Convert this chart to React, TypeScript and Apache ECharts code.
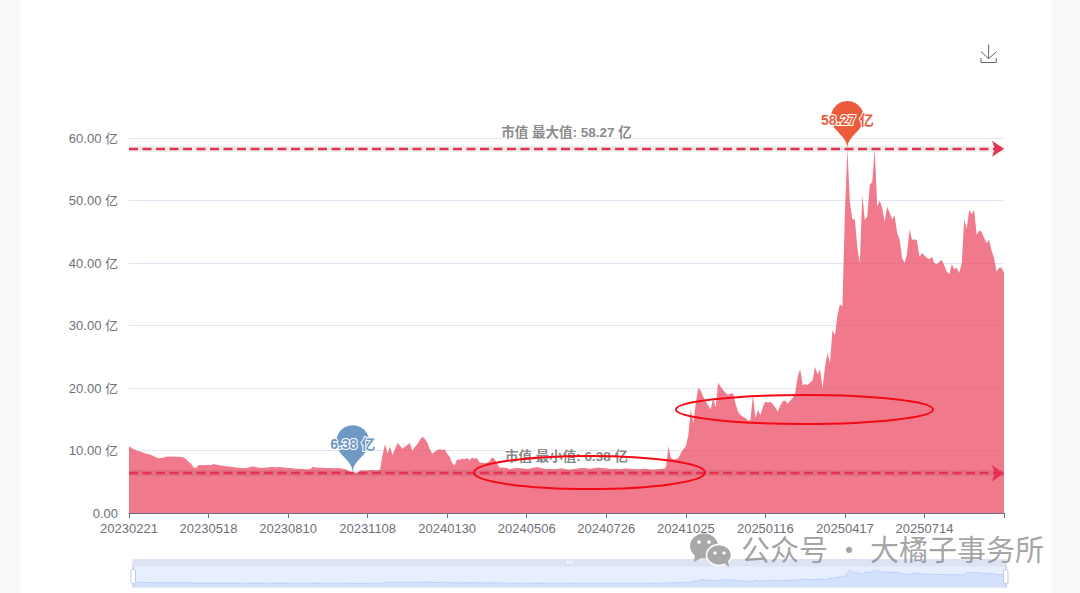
import React, { useEffect, useRef } from "react";
import * as echarts from "echarts";

const tickLabels = ["20230221","20230518","20230810","20231108","20240130","20240506","20240726","20241025","20250116","20250417","20250714",""];
const pointsPerTick = 32;

const values1 = [10.7,10.4,10.2,10.0,9.9,9.8,9.6,9.5,9.4,9.3,9.1,8.9,8.75,8.8,8.9,9.0,9.05,9.0,9.05,9.0,9.0,8.95,8.9,8.6,8.2,7.9,7.3,7.2,7.7,7.7,7.65,7.7];
const values2 = [7.7,7.65,7.85,7.75,7.7,7.6,7.55,7.5,7.45,7.4,7.35,7.3,7.25,7.2,7.2,7.15,7.3,7.4,7.45,7.35,7.3,7.2,7.25,7.3,7.3,7.35,7.35,7.3,7.35,7.35,7.3,7.25];
const values3 = [7.2,7.2,7.15,7.1,7.1,7.1,7.05,7.0,7.0,7.05,7.4,7.3,7.3,7.25,7.25,7.2,7.2,7.2,7.15,7.15,7.2,7.15,7.1,7.0,6.85,6.6,6.38,6.45,6.5,6.75,6.85,6.8];
const values4 = [6.85,6.9,6.9,6.85,6.85,6.95,9.3,11.0,9.6,10.6,9.3,10.2,11.2,10.8,10.3,10.6,10.9,11.2,9.9,10.6,11.0,11.7,12.2,11.9,11.3,10.2,9.5,9.8,10.1,10.2,10.1,10.2];
const values5 = [9.5,9.0,8.0,7.6,8.6,8.5,8.7,8.6,8.8,8.5,8.9,8.7,8.8,8.1,8.05,8.0,8.0,8.3,8.9,8.7,8.0,7.3,7.3,7.25,7.2,7.0,7.1,7.15,7.2,7.2,7.15,7.1];
const values6 = [7.05,7.1,7.2,7.3,7.35,7.3,7.2,7.1,7.05,7.1,7.05,7.0,7.05,7.1,7.15,7.1,7.0,6.95,7.0,7.05,7.1,7.15,7.2,7.2,7.15,7.1,7.1,7.2,7.25,7.3,7.2,7.15];
const values7 = [7.15,7.1,7.05,7.1,7.1,7.0,7.05,7.1,7.15,7.1,7.1,7.05,7.0,7.0,7.05,7.1,7.1,7.0,6.95,6.95,7.0,7.0,7.05,7.1,7.3,10.7,8.8,8.6,8.6,8.8,9.6,10.2];
const values8 = [10.7,12.4,16.6,14.4,17.6,20.0,19.6,18.6,17.9,17.2,16.6,18.4,16.9,20.9,20.2,19.7,19.2,18.9,19.1,19.2,17.5,16.2,15.7,15.4,15.2,14.8,14.9,18.9,15.2,16.5,15.7,17.0];
const values9 = [17.8,17.7,17.8,17.4,16.9,16.2,17.2,17.9,18.0,17.5,18.0,18.4,19.2,21.8,23.0,20.5,20.6,20.5,20.9,21.2,23.4,22.2,23.0,20.0,23.4,25.6,24.0,29.3,28.4,31.7,33.4,33.0];
const values10 = [48,58.27,49.8,47,47.0,42.5,40,50.9,46.9,47.5,52.5,53,58.2,49,50,48.8,46.6,49,48,47,47.6,44.8,43.8,40.8,40,41.5,45.4,43.7,43.8,43.6,41,41.6];
const values11 = [41.2,40.8,40.6,41,40,39.8,40.2,40.5,39.6,38.6,38.2,39.8,39,39.3,38.4,40,47,45.5,48.5,47.8,48.5,44.5,45.2,45,44,43.2,43.7,42,40.8,38.6,39.2,39.3,38.4];

const marketCap = [...values1,...values2,...values3,...values4,...values5,...values6,...values7,...values8,...values9,...values10,...values11];
const categories = marketCap.map((_, i) => (i % pointsPerTick === 0 ? tickLabels[i / pointsPerTick] : ""));

const seriesName = "市值";
const font = "'Liberation Sans','Noto Sans CJK SC',sans-serif";
const annotationRed = "#f40a14";
const mark = "#a8a8a8";

const fmt = (v: number) => v.toFixed(2) + " 亿";

// A soft band under each dashed line stands in for the line's shadow,
// because an SVG filter on a zero-height line would make the line vanish.
const lineHalo = {
  symbol: "none",
  lineStyle: { color: "rgba(0,0,0,0.07)", type: "solid", width: 6 },
  label: { show: false },
};

export default function App() {
  const ref = useRef<HTMLDivElement>(null);
  useEffect(() => {
    document.body.style.margin = "0";
    const chart = echarts.init(ref.current!, undefined, { renderer: "svg" });
    chart.setOption({
      animation: false,
      backgroundColor: "#fff",
      textStyle: { fontFamily: font },
      grid: { left: 129, right: 76, top: 138, bottom: 80 },
      toolbox: {
        right: 66,
        top: 27,
        itemSize: 18,
        feature: { saveAsImage: { title: "" } },
        iconStyle: { borderColor: "#666" },
      },
      xAxis: {
        type: "category",
        boundaryGap: false,
        data: categories,
        axisLine: { lineStyle: { color: "#6E7079" } },
        axisTick: { interval: pointsPerTick - 1, lineStyle: { color: "#6E7079" } },
        axisLabel: { interval: pointsPerTick - 1, color: "#6E7079", fontSize: 13, margin: 9, fontFamily: font },
      },
      yAxis: {
        type: "value",
        min: 0,
        max: 60,
        interval: 10,
        axisLine: { show: false },
        axisTick: { show: false },
        splitLine: { lineStyle: { color: "#E0E6F1" } },
        axisLabel: {
          color: "#6E7079",
          fontSize: 13,
          margin: 11,
          fontFamily: font,
          formatter: (v: number) => (v === 0 ? "0.00" : fmt(v)),
        },
      },
      dataZoom: [
        {
          type: "slider",
          left: 129.5,
          right: 76,
          top: 559,
          height: 22,
          showDetail: false,
          moveHandleSize: 7,
          moveHandleStyle: { color: "#dde3f2", opacity: 1 },
          selectedDataBackground: {
            lineStyle: { color: "#a3bff5" },
            areaStyle: { color: "#8fb0f7", opacity: 0.22 },
          },
          start: 0,
          end: 100,
        },
      ],
      series: [
        {
          name: seriesName,
          type: "line",
          data: marketCap,
          symbol: "none",
          lineStyle: { width: 0 },
          itemStyle: { color: "#EA415B" },
          areaStyle: { color: "#EA415B", opacity: 0.7 },
          markPoint: {
            symbol: "pin",
            symbolSize: 55,
            data: [
              { type: "max", name: "最大值", itemStyle: { color: "#EC5B3C" }, label: { color: "#EC5B3C" } },
              { type: "min", name: "最小值", itemStyle: { color: "#6F98C4" }, label: { color: "#6F98C4" } },
            ],
            label: {
              formatter: (p: any) => fmt(p.value),
              fontSize: 14,
              fontWeight: "bold",
              textBorderColor: "#fff",
              textBorderWidth: 2,
              fontFamily: font,
            },
          },
          markLine: {
            silent: true,
            symbol: ["none", "arrow"],
            symbolSize: 12,
            precision: 2,
            lineStyle: {
              color: "#E8304F",
              type: [9, 4.5],
              width: 2.4,
            },
            label: {
              position: "middle",
              distance: 10,
              color: "#8a8a8a",
              fontSize: 13.5,
              fontWeight: "bold",
              textBorderColor: "#fff",
              textBorderWidth: 3,
              fontFamily: font,
              formatter: (p: any) => `${seriesName} ${p.name}: ${fmt(p.value)}`,
            },
            data: [
              { type: "max", name: "最大值halo", ...lineHalo },
              { type: "min", name: "最小值halo", ...lineHalo },
              { type: "max", name: "最大值" },
              { type: "min", name: "最小值" },
            ],
          },
        },
      ],
      graphic: [
        { type: "rect", silent: true, z: -1, shape: { x: 0, y: 0, width: 20, height: 593 }, style: { fill: "#f7f9fb" } },
        { type: "rect", silent: true, z: -1, shape: { x: 1052, y: 0, width: 28, height: 593 }, style: { fill: "#f7f9fb" } },
        { type: "ellipse", silent: true, z: 50, shape: { cx: 589.5, cy: 472.5, rx: 115.5, ry: 16.5 }, style: { fill: "none", stroke: annotationRed, lineWidth: 2 } },
        { type: "ellipse", silent: true, z: 50, shape: { cx: 804.5, cy: 409.5, rx: 128.5, ry: 14.5 }, style: { fill: "none", stroke: annotationRed, lineWidth: 2 } },
        { type: "ellipse", silent: true, z: 60, shape: { cx: 704, cy: 546, rx: 14, ry: 12.5 }, style: { fill: mark } },
        { type: "polygon", silent: true, z: 60, shape: { points: [[695, 554], [694, 562], [703, 557]] }, style: { fill: mark } },
        { type: "circle", silent: true, z: 61, shape: { cx: 699, cy: 542, r: 1.8 }, style: { fill: "#fff" } },
        { type: "circle", silent: true, z: 61, shape: { cx: 709, cy: 542, r: 1.8 }, style: { fill: "#fff" } },
        { type: "ellipse", silent: true, z: 62, shape: { cx: 719, cy: 555, rx: 12.5, ry: 10.5 }, style: { fill: mark, stroke: "#fff", lineWidth: 1.5 } },
        { type: "polygon", silent: true, z: 62, shape: { points: [[724, 563], [729, 567], [728, 560]] }, style: { fill: mark } },
        { type: "circle", silent: true, z: 63, shape: { cx: 715, cy: 553, r: 1.6 }, style: { fill: "#fff" } },
        { type: "circle", silent: true, z: 63, shape: { cx: 724, cy: 553, r: 1.6 }, style: { fill: "#fff" } },
        {
          type: "text",
          silent: true,
          z: 60,
          x: 741,
          y: 533,
          style: {
            text: "公众号 · 大橘子事务所",
            fill: "rgba(130,130,130,0.72)",
            fontSize: 29,
            fontFamily: "'Noto Sans CJK SC',sans-serif",
          },
        },
      ],
    });
    return () => chart.dispose();
  }, []);
  return <div ref={ref} style={{ position: "absolute", left: 0, top: 0, width: 1080, height: 593 }} />;
}
